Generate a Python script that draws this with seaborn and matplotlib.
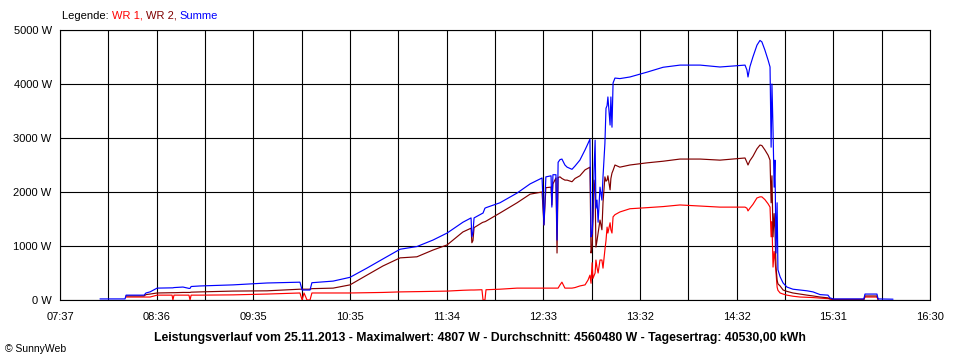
import matplotlib
matplotlib.use("Agg")
import matplotlib.pyplot as plt
import seaborn as sns
import pandas as pd
import numpy as np

# ---- data ----
times = [
    "08:01:30", "08:16:50", "08:17:30", "08:28:30", "08:29:40", "08:32:10", "08:36:30",
    "08:45:40", "08:46:10", "08:46:50", "08:52:20", "08:56:00", "08:56:40", "08:57:20",
    "09:02:50", "09:23:00", "09:43:50", "10:04:00", "10:05:20", "10:06:30", "10:08:20",
    "10:10:10", "10:11:20", "10:24:20", "10:34:40", "10:45:00", "10:54:50", "11:05:20",
    "11:15:40", "11:25:30", "11:34:10", "11:43:50", "11:48:50", "11:49:20", "11:50:00",
    "11:50:40", "11:55:30", "11:56:10", "11:57:20", "11:58:00", "12:06:30", "12:17:00",
    "12:25:00", "12:32:20", "12:33:30", "12:34:40", "12:37:50", "12:38:20", "12:39:00",
    "12:40:50", "12:41:30", "12:42:10", "12:43:20", "12:44:30", "12:46:20", "12:47:40",
    "12:50:40", "12:52:30", "12:55:30", "12:58:40", "13:00:30", "13:01:40", "13:02:20",
    "13:03:00", "13:03:30", "13:04:10", "13:04:50", "13:05:20", "13:06:00", "13:06:40",
    "13:07:50", "13:09:00", "13:09:40", "13:10:50", "13:11:30", "13:12:10", "13:12:40",
    "13:14:00", "13:14:30", "13:15:10", "13:15:50", "13:17:00", "13:20:00", "13:26:10",
    "13:36:40", "13:46:30", "13:56:50", "14:09:10", "14:21:20", "14:36:40", "14:37:50",
    "14:38:30", "14:39:40", "14:41:30", "14:44:00", "14:45:50", "14:47:00", "14:48:50",
    "14:50:50", "14:52:00", "14:52:40", "14:53:10", "14:53:50", "14:54:30", "14:55:00",
    "14:55:40", "14:56:20", "14:56:50", "14:58:10", "15:00:00", "15:02:20", "15:06:00",
    "15:10:20", "15:14:40", "15:18:20", "15:22:40", "15:27:30", "15:28:40", "15:30:40",
    "15:49:30", "15:50:10", "15:57:30", "15:58:10", "16:07:20",
]
wr1 = [
    None, None, 55, 55, 55, 55, 90,
    90, 0, 90, 90, 90, 0, 90,
    90, 95, 110, 130, 0, 130, 0,
    0, 130, 130, 130, 135, 140, 150,
    155, 160, 165, 180, 185, 185, 185,
    185, 190, 0, 0, 190, 200, 220,
    220, 220, 220, 220, 220, 220, 220,
    220, 220, 220, 280, 330, 220, 220,
    220, 230, 260, 280, 370, 460, 310,
    690, 400, 450, 500, 740, 600, 500,
    740, 740, 590, 930, 1100, 1350, 1240,
    1430, 1300, 1240, 1540, 1580, 1630, 1690,
    1710, 1730, 1760, 1740, 1720, 1720, 1700,
    1650, 1700, 1770, 1890, 1910, 1910, 1860,
    1780, 1720, 1170, 1450, 610, 900, 760,
    500, 240, 180, 130, 110, 90, 70,
    55, 50, 45, 35, 25, 20, 10,
    10, 55, 55, 10, None,
]
wr2 = [
    None, None, 75, 75, 100, 110, 130,
    135, 135, 135, 140, 140, 140, 145,
    150, 165, 170, 200, 200, 200, 200,
    200, 210, 220, 280, 460, 630, 780,
    800, 925, 1020, 1260, 1330, 1060, 1100,
    1340, 1430, 1440, 1450, 1460, 1610, 1800,
    1960, 2000, 1390, 2080, 2090, 1760, 2150,
    2260, 870, 2270, 2280, 2250, 2220, 2220,
    2190, 2250, 2300, 2410, 2440, 2460, 870,
    980, 1500, 2220, 2000, 980, 1100, 1240,
    1480, 1300, 1800, 2280, 2200, 2220, 2300,
    2040, 2250, 2350, 2400, 2500, 2460, 2500,
    2540, 2570, 2610, 2610, 2590, 2630, 2550,
    2500, 2580, 2660, 2800, 2870, 2860, 2780,
    2680, 2590, 1800, 2300, 1170, 1600, 1300,
    610, 370, 300, 260, 185, 160, 130,
    110, 90, 75, 55, 40, 20, 10,
    10, 75, 75, 10, None,
]
summe = [
    20, 20, 90, 90, 130, 150, 220,
    225, 225, 230, 240, 215, 215, 250,
    260, 280, 315, 330, 185, 185, 185,
    185, 320, 350, 420, 590, 760, 940,
    990, 1110, 1240, 1440, 1520, 1170, 1250,
    1520, 1600, 1610, 1700, 1710, 1800, 1980,
    2150, 2260, 1390, 2280, 2300, 1720, 2320,
    2320, 1110, 2550, 2600, 2610, 2500, 2460,
    2420, 2480, 2590, 2780, 2900, 2980, 1170,
    1230, 1540, 2400, 2960, 1700, 1850, 1440,
    2090, 1850, 2280, 2900, 3550, 3600, 3760,
    3240, 3760, 3200, 4020, 4110, 4100, 4130,
    4220, 4310, 4350, 4350, 4315, 4350, 4260,
    4130, 4320, 4500, 4720, 4807, 4780, 4630,
    4440, 4315, 2830, 4000, 3150, 2090, 2590,
    870, 1800, 560, 430, 315, 240, 200,
    185, 170, 150, 100, 90, 40, 20,
    20, 110, 110, 20, 15,
]

series_names = ["WR 1", "WR 2", "Summe"]
series_colors = ["#ff0000", "#800000", "#0000ff"]

x_start, x_end = "07:37:00", "16:30:00"
x_tick_labels = ["07:37", "08:36", "09:35", "10:35", "11:34",
                 "12:33", "13:32", "14:32", "15:31", "16:30"]
y_ticks = [0, 1000, 2000, 3000, 4000, 5000]
y_tick_labels = ["0 W", "1000 W", "2000 W", "3000 W", "4000 W", "5000 W"]

title_text = ("Leistungsverlauf vom 25.11.2013 - Maximalwert: 4807 W - "
              "Durchschnitt: 4560480 W - Tagesertrag: 40530,00 kWh")
footer_text = "\u00a9 SunnyWeb"


def to_min(s):
    h, m, sec = s.split(":")
    return int(h) * 60 + int(m) + int(sec) / 60.0


rows = []
for name, vals in zip(series_names, (wr1, wr2, summe)):
    for t, v in zip(times, vals):
        if v is None:
            continue
        rows.append((to_min(t), v, name))
df = pd.DataFrame(rows, columns=["Zeit", "Leistung", "Serie"])

sns.set_style("white")
plt.rcParams["font.family"] = ["Liberation Sans", "DejaVu Sans"]

fig = plt.figure(figsize=(9.6, 3.6), dpi=100)
ax = fig.add_axes([60 / 960, 60 / 360, 870 / 960, 270 / 360])

sns.lineplot(data=df, x="Zeit", y="Leistung", hue="Serie",
             hue_order=series_names,
             palette=dict(zip(series_names, series_colors)),
             estimator=None, sort=False, linewidth=0.85,
             legend=False, ax=ax, zorder=3)

x0, x1 = to_min(x_start), to_min(x_end)
ax.set_xlim(x0, x1)
ax.set_ylim(y_ticks[0], y_ticks[-1])

ax.set_xticks(np.linspace(x0, x1, len(x_tick_labels)))
ax.set_xticklabels(x_tick_labels)
ax.set_xticks(np.linspace(x0, x1, 2 * (len(x_tick_labels) - 1) + 1), minor=True)
ax.set_yticks(y_ticks)
ax.set_yticklabels(y_tick_labels)

ax.set_xlabel("")
ax.set_ylabel("")

ax.grid(True, which="both", axis="x", color="black", linewidth=0.8)
ax.grid(True, which="major", axis="y", color="black", linewidth=0.8)
ax.set_axisbelow(True)

for sp in ax.spines.values():
    sp.set_visible(True)
    sp.set_color("black")
    sp.set_linewidth(0.8)

ax.tick_params(axis="both", which="both", direction="out", length=4,
               width=0.8, color="black", labelsize=8, labelcolor="black", pad=2)
ax.tick_params(axis="x", which="major", pad=5)

# legend line at top
t = fig.text(62 / 960, 1 - 16 / 360, "Legende: ", fontsize=8, va="center", color="black")
prev = t
for name, col, suffix in zip(series_names, series_colors, [", ", ", ", ""]):
    prev = ax.annotate(name + suffix, xy=(1, 0), xycoords=prev, va="bottom",
                       fontsize=8, color=col, annotation_clip=False)

fig.text(0.5, 1 - 338 / 360, title_text, ha="center", va="center",
         fontsize=8.8, fontweight="bold", color="black")
fig.text(5 / 960, 1 - 349 / 360, footer_text, ha="left", va="center",
         fontsize=7.5, color="black")

fig.savefig("out.png", dpi=100)
